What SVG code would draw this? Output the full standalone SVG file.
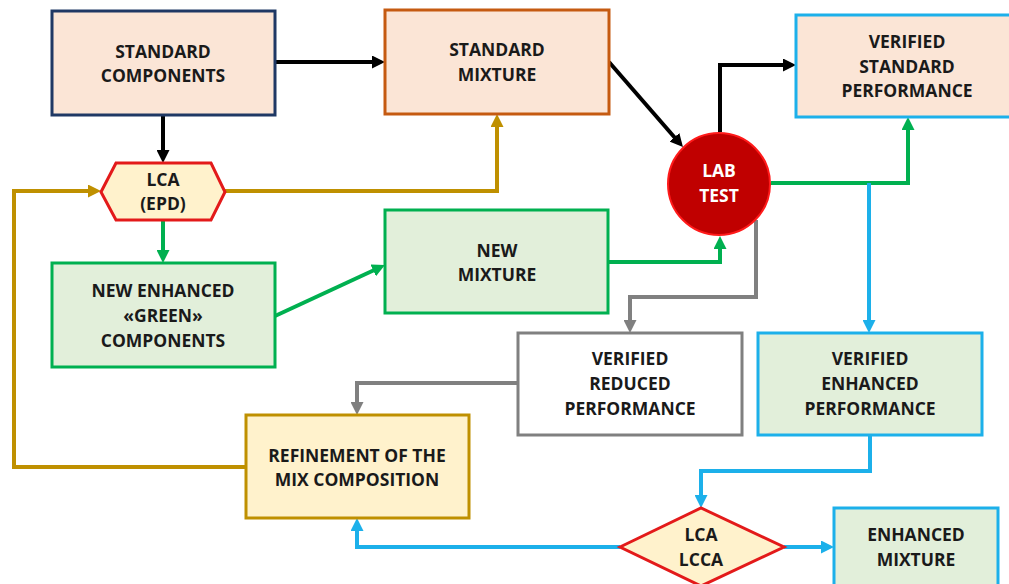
<svg xmlns="http://www.w3.org/2000/svg" width="1009" height="584" viewBox="0 0 1009 584">
<defs>
<style>
.t{font-family:"Open Sans","Liberation Sans",sans-serif;font-weight:700;font-size:17.5px;fill:#1a1a1a;text-anchor:middle}
.w{fill:#ffffff}
.box{stroke-width:3}
.c{fill:none;stroke-width:4;stroke-linejoin:miter}
.k{stroke:#000000}.g{stroke:#bf9000}.n{stroke:#00b050}.b{stroke:#1cb0ea}.y{stroke:#808080}
</style>
<marker id="ak" markerUnits="userSpaceOnUse" markerWidth="13" markerHeight="13" refX="3" refY="6.5" orient="auto"><path d="M0,0 L13,6.5 L0,13 z" fill="#000000"/></marker>
<marker id="ag" markerUnits="userSpaceOnUse" markerWidth="13" markerHeight="13" refX="3" refY="6.5" orient="auto"><path d="M0,0 L13,6.5 L0,13 z" fill="#bf9000"/></marker>
<marker id="an" markerUnits="userSpaceOnUse" markerWidth="13" markerHeight="13" refX="3" refY="6.5" orient="auto"><path d="M0,0 L13,6.5 L0,13 z" fill="#00b050"/></marker>
<marker id="ab" markerUnits="userSpaceOnUse" markerWidth="13" markerHeight="13" refX="3" refY="6.5" orient="auto"><path d="M0,0 L13,6.5 L0,13 z" fill="#1cb0ea"/></marker>
<marker id="ay" markerUnits="userSpaceOnUse" markerWidth="13" markerHeight="13" refX="3" refY="6.5" orient="auto"><path d="M0,0 L13,6.5 L0,13 z" fill="#808080"/></marker>
</defs>
<rect width="1009" height="584" fill="#ffffff"/>
<g id="connectors">
<path class="c k" d="M275,62 H375" marker-end="url(#ak)"/>
<path class="c k" d="M163,115 V153" marker-end="url(#ak)"/>
<path class="c k" d="M609,62 L676.4,139.5" marker-end="url(#ak)"/>
<path class="c k" d="M720,132 V65 H786" marker-end="url(#ak)"/>
<path class="c g" d="M225,191 H497 V124" marker-end="url(#ag)"/>
<path class="c g" d="M246,467 H14 V191 H91" marker-end="url(#ag)"/>
<path class="c n" d="M163,220 V253" marker-end="url(#an)"/>
<path class="c n" d="M275,316 L375.9,269.2" marker-end="url(#an)"/>
<path class="c n" d="M608,262 H720 V246" marker-end="url(#an)"/>
<path class="c n" d="M771,183 H908 V127" marker-end="url(#an)"/>
<path class="c b" d="M869,183 V323" marker-end="url(#ab)"/>
<path class="c y" d="M756,220 V297 H630 V323" marker-end="url(#ay)"/>
<path class="c y" d="M518,383 H357 V405" marker-end="url(#ay)"/>
<path class="c b" d="M870,435 V471 H701 V498" marker-end="url(#ab)"/>
<path class="c b" d="M620,547 H357 V528" marker-end="url(#ab)"/>
<path class="c b" d="M784,547 H824" marker-end="url(#ab)"/>
</g>
<g id="standard-components">
<rect class="box" x="52" y="11" width="223" height="104" fill="#fbe5d6" stroke="#1f3864"/>
<text class="t" x="163" y="58">STANDARD</text>
<text class="t" x="163" y="82">COMPONENTS</text>
</g>
<g id="standard-mixture">
<rect class="box" x="385" y="10" width="224" height="104" fill="#fbe5d6" stroke="#c55a11"/>
<text class="t" x="497" y="56">STANDARD</text>
<text class="t" x="497" y="81">MIXTURE</text>
</g>
<g id="verified-standard-performance">
<rect class="box" x="796" y="15" width="222" height="102" fill="#fbe5d6" stroke="#1cb0ea"/>
<text class="t" x="907" y="48">VERIFIED</text>
<text class="t" x="907" y="73">STANDARD</text>
<text class="t" x="907" y="97">PERFORMANCE</text>
</g>
<g id="lca-epd">
<polygon class="box" points="101,192 116,163 211,163 225,192 211,220 116,220" fill="#fff2cc" stroke="#e31a1a"/>
<text class="t" x="163" y="186">LCA</text>
<text class="t" x="163" y="210">(EPD)</text>
</g>
<g id="lab-test">
<circle cx="719" cy="184" r="51" fill="#c00000" stroke="#ff1a1a" stroke-width="2"/>
<text class="t w" x="719" y="177">LAB</text>
<text class="t w" x="719" y="202">TEST</text>
</g>
<g id="new-mixture">
<rect class="box" x="385" y="210" width="223" height="103" fill="#e2efda" stroke="#00b050"/>
<text class="t" x="497" y="257">NEW</text>
<text class="t" x="497" y="281">MIXTURE</text>
</g>
<g id="new-enhanced-green-components">
<rect class="box" x="52" y="263" width="223" height="104" fill="#e2efda" stroke="#00b050"/>
<text class="t" x="163" y="297">NEW ENHANCED</text>
<text class="t" x="163" y="322">«GREEN»</text>
<text class="t" x="163" y="347">COMPONENTS</text>
</g>
<g id="verified-reduced-performance">
<rect class="box" x="518" y="333" width="224" height="102" fill="#ffffff" stroke="#808080"/>
<text class="t" x="630" y="365">VERIFIED</text>
<text class="t" x="630" y="390">REDUCED</text>
<text class="t" x="630" y="415">PERFORMANCE</text>
</g>
<g id="verified-enhanced-performance">
<rect class="box" x="758" y="333" width="224" height="102" fill="#e2efda" stroke="#1cb0ea"/>
<text class="t" x="870" y="365">VERIFIED</text>
<text class="t" x="870" y="390">ENHANCED</text>
<text class="t" x="870" y="415">PERFORMANCE</text>
</g>
<g id="refinement">
<rect class="box" x="246" y="415" width="223" height="103" fill="#fff2cc" stroke="#bf9000"/>
<text class="t" x="357" y="462">REFINEMENT OF THE</text>
<text class="t" x="357" y="486">MIX COMPOSITION</text>
</g>
<g id="lca-lcca">
<polygon class="box" points="620,547 701,508 784,547 701,586" fill="#fff2cc" stroke="#e31a1a"/>
<text class="t" x="701" y="541">LCA</text>
<text class="t" x="701" y="566">LCCA</text>
</g>
<g id="enhanced-mixture">
<rect class="box" x="834" y="508" width="164" height="80" fill="#e2efda" stroke="#1cb0ea"/>
<text class="t" x="916" y="541">ENHANCED</text>
<text class="t" x="916" y="566">MIXTURE</text>
</g>
</svg>
